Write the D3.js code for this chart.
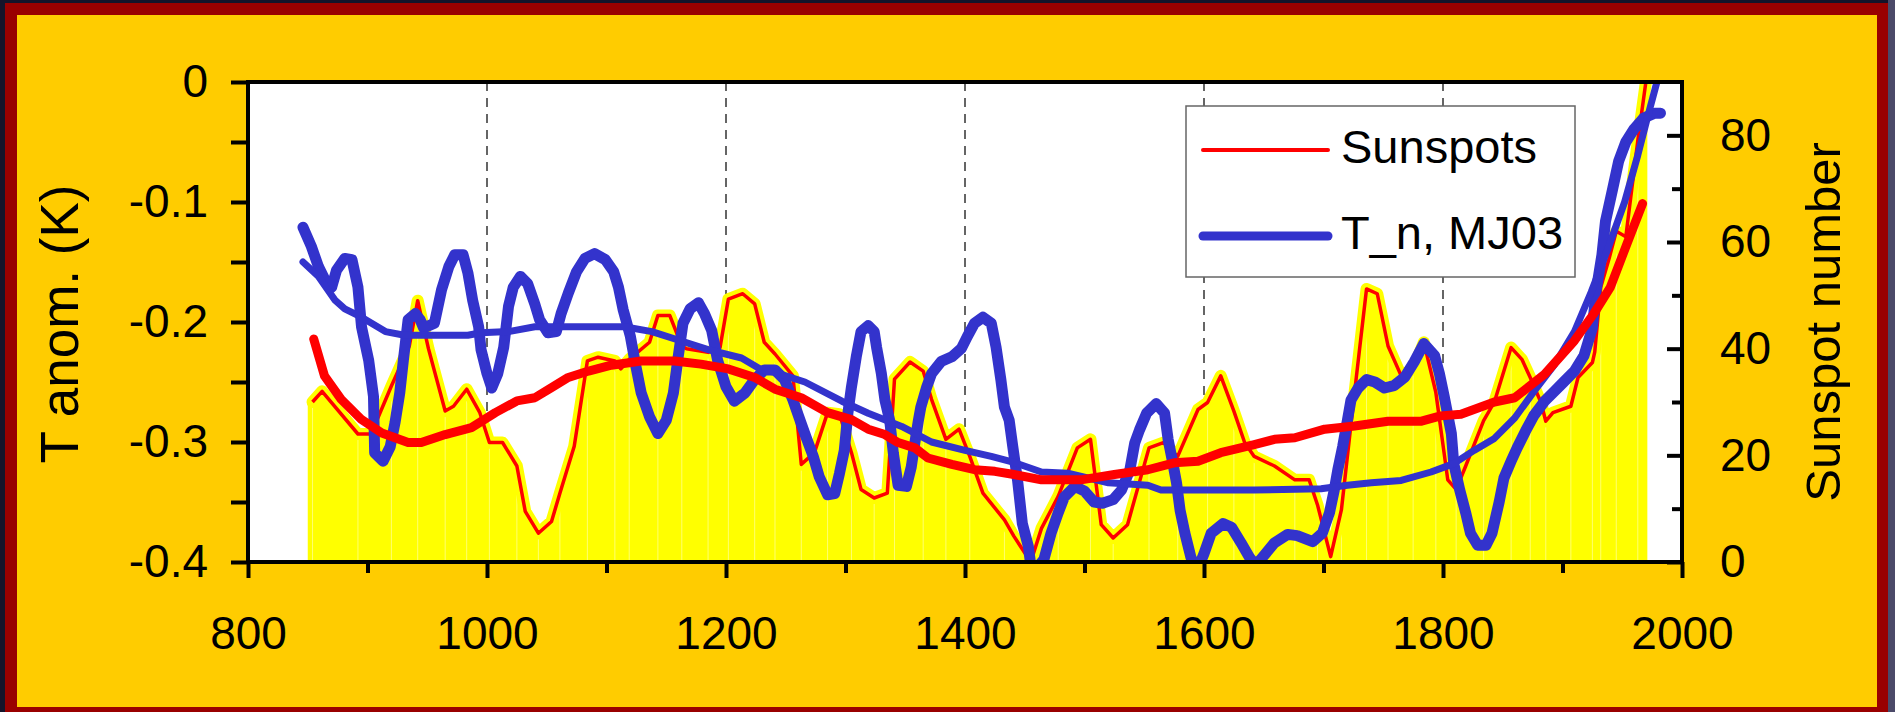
<!DOCTYPE html>
<html>
<head>
<meta charset="utf-8">
<script src="https://cdn.jsdelivr.net/npm/d3@7"></script>
<style>
  html, body { margin: 0; padding: 0; background: #14142a; overflow: hidden; }
  svg { display: block; font-family: 'Liberation Sans', Arial, sans-serif; }
</style>
</head>
<body>
<svg id="chart"></svg>
<script>
// sunspot number (right axis), thin red line + yellow fill
const sunspotYears = [850, 854, 862, 892, 903, 920, 935, 942, 951, 965, 972, 983, 994, 1002, 1013, 1025, 1032,
  1043, 1054, 1061, 1073, 1084, 1093, 1107, 1112, 1119, 1136, 1143, 1153, 1163, 1167, 1185, 1195, 1202,
  1214, 1224, 1232, 1241, 1256, 1263, 1274, 1285, 1295, 1305, 1313, 1324, 1335, 1341, 1354, 1365, 1372,
  1384, 1395, 1404, 1415, 1433, 1441, 1455, 1464, 1478, 1494, 1505, 1514, 1524, 1536, 1554, 1566, 1578,
  1595, 1603, 1614, 1625, 1634, 1642, 1659, 1676, 1688, 1695, 1706, 1715, 1726, 1736, 1745, 1754, 1765,
  1775, 1784, 1794, 1804, 1811, 1819, 1834, 1843, 1857, 1866, 1873, 1882, 1886, 1892, 1907, 1913, 1925,
  1927, 1932, 1939, 1945, 1953, 1963, 1971];
const sunspotValues = [30, 30, 32, 24, 24, 33, 40.5, 49, 40, 28.3, 29.2, 32.4, 28, 22.4, 22.4, 18, 9.5,
  5.4, 7.6, 12.9, 21.7, 37.7, 38.4, 37.7, 36.2, 38, 41.2, 46.2, 46.2, 40.5, 40, 39.3, 40.2, 49.3,
  50.3, 48.4, 41.2, 39, 34.9, 18.3, 20.5, 28, 27.7, 20.5, 13.6, 12, 12.9, 34.3, 37.5, 35.8, 30.5,
  23, 24.9, 19.8, 12.9, 7.9, 4.8, 0, 6.3, 12.3, 21.4, 23, 7, 4.5, 7, 21.4, 22.4, 19.8,
  28.6, 29.9, 34.9, 28.3, 22.4, 19.8, 18, 15.4, 15.4, 10.7, 1, 9.8, 31.8, 51.2, 50.3, 40.5, 34.9,
  36.2, 41.2, 31.8, 15.4, 13.6, 18, 26.5, 30, 40.2, 38, 34.6, 29.9, 26.4, 28, 29.2, 34.6, 37.4,
  39.4, 51.5, 56.9, 62, 61, 79, 92];

// smoothed sunspot number, thick red line
const sunSmoothYears = [855, 864, 878, 895, 912, 934, 945, 965, 987, 1007, 1025, 1040, 1054, 1068, 1085,
  1104, 1129, 1157, 1179, 1202, 1224, 1241, 1263, 1285, 1305, 1319, 1333, 1344, 1358, 1369, 1389, 1408,
  1425, 1441, 1464, 1497, 1525, 1553, 1575, 1595, 1614, 1642, 1659, 1676, 1701, 1726, 1754, 1782, 1798,
  1815, 1843, 1860, 1885, 1910, 1926, 1940, 1954, 1967];
const sunSmoothValues = [41.8, 34.9, 30.5, 26.7, 24.2, 22.4, 22.4, 23.9, 25.2, 28, 30.2, 30.8, 32.7, 34.6, 35.8,
  36.9, 37.7, 37.7, 37.1, 36.2, 34.6, 32.4, 30.8, 28, 26.7, 24.9, 23.9, 22.4, 21.4, 19.5, 18.3, 17.3,
  17, 16.4, 15.4, 15.4, 16.4, 17.3, 18.6, 18.9, 20.5, 22, 23, 23.3, 24.9, 25.5, 26.4, 26.4, 27.4,
  27.7, 30, 30.8, 35.2, 41.5, 46.5, 51.5, 59.7, 67.2];

// T_n, MJ03 (left axis), thick blue line
const tempYears = [846, 853, 859, 866, 870, 874, 881, 887, 892, 895, 901, 905, 906, 913, 919, 923, 927, 930,
  934, 940, 944, 947, 956, 962, 968, 973, 980, 984, 988, 993, 995, 1000, 1004, 1009, 1014, 1018, 1022,
  1028, 1034, 1040, 1044, 1051, 1058, 1062, 1068, 1075, 1082, 1090, 1099, 1106, 1110, 1114, 1120, 1124,
  1129, 1136, 1143, 1150, 1156, 1160, 1164, 1170, 1177, 1182, 1188, 1193, 1200, 1207, 1216, 1224, 1232,
  1241, 1249, 1256, 1262, 1267, 1273, 1278, 1285, 1291, 1295, 1299, 1302, 1305, 1309, 1313, 1319, 1324,
  1326, 1330, 1333, 1337, 1340, 1344, 1351, 1355, 1358, 1361, 1363, 1368, 1372, 1380, 1389, 1397, 1402,
  1408, 1415, 1422, 1426, 1430, 1433, 1437, 1440, 1444, 1448, 1453, 1456, 1466, 1472, 1478, 1483, 1492,
  1500, 1508, 1515, 1524, 1531, 1538, 1542, 1546, 1552, 1560, 1567, 1570, 1574, 1577, 1580, 1584, 1589,
  1594, 1600, 1606, 1616, 1623, 1631, 1638, 1643, 1649, 1659, 1670, 1678, 1691, 1699, 1705, 1709, 1712,
  1716, 1720, 1723, 1729, 1736, 1743, 1751, 1759, 1768, 1776, 1784, 1793, 1797, 1801, 1807, 1809, 1814,
  1819, 1823, 1829, 1836, 1841, 1847, 1851, 1857, 1862, 1869, 1876, 1885, 1893, 1901, 1910, 1918, 1925,
  1928, 1933, 1936, 1942, 1947, 1953, 1960, 1968, 1977, 1982];
const tempValues = [-0.121, -0.137, -0.154, -0.168, -0.171, -0.157, -0.147, -0.148, -0.171, -0.204, -0.232,
  -0.262, -0.309, -0.316, -0.304, -0.284, -0.259, -0.232, -0.198, -0.193, -0.198, -0.205, -0.201, -0.173,
  -0.154, -0.144, -0.144, -0.159, -0.182, -0.204, -0.223, -0.243, -0.255, -0.243, -0.221, -0.187, -0.171,
  -0.162, -0.168, -0.185, -0.198, -0.209, -0.208, -0.193, -0.176, -0.158, -0.147, -0.143, -0.148, -0.158,
  -0.171, -0.19, -0.212, -0.234, -0.259, -0.279, -0.293, -0.282, -0.259, -0.229, -0.201, -0.189, -0.184,
  -0.193, -0.207, -0.232, -0.254, -0.266, -0.259, -0.248, -0.24, -0.24, -0.248, -0.265, -0.282, -0.296,
  -0.312, -0.329, -0.344, -0.343, -0.326, -0.307, -0.276, -0.254, -0.229, -0.208, -0.203, -0.208, -0.221,
  -0.243, -0.265, -0.282, -0.309, -0.336, -0.337, -0.321, -0.301, -0.282, -0.271, -0.254, -0.243, -0.233,
  -0.229, -0.222, -0.212, -0.201, -0.196, -0.201, -0.221, -0.248, -0.271, -0.282, -0.304, -0.332, -0.368,
  -0.387, -0.41, -0.398, -0.376, -0.359, -0.346, -0.337, -0.341, -0.35, -0.351, -0.348, -0.34, -0.323,
  -0.301, -0.29, -0.276, -0.268, -0.276, -0.298, -0.318, -0.334, -0.357, -0.376, -0.396, -0.408, -0.393,
  -0.376, -0.368, -0.371, -0.384, -0.396, -0.403, -0.396, -0.384, -0.377, -0.378, -0.383, -0.376, -0.359,
  -0.34, -0.323, -0.304, -0.282, -0.265, -0.255, -0.248, -0.25, -0.255, -0.253, -0.246, -0.233, -0.218,
  -0.228, -0.243, -0.262, -0.293, -0.318, -0.34, -0.359, -0.376, -0.386, -0.386, -0.376, -0.35, -0.33,
  -0.316, -0.305, -0.291, -0.278, -0.266, -0.258, -0.25, -0.241, -0.228, -0.205, -0.175, -0.144, -0.116,
  -0.089, -0.066, -0.05, -0.039, -0.03, -0.026, -0.026];

// smoothed temperature, blue line
const tempSmoothYears = [846, 859, 873, 881, 895, 915, 931, 951, 984, 995, 1018, 1040, 1068, 1115, 1138, 1160,
  1185, 1213, 1230, 1241, 1266, 1297, 1319, 1347, 1372, 1400, 1422, 1441, 1464, 1486, 1520, 1553, 1564,
  1642, 1698, 1720, 1740, 1765, 1790, 1809, 1826, 1843, 1860, 1876, 1893, 1910, 1924, 1938, 1952, 1963,
  1971, 1979];
const tempSmoothValues = [-0.15, -0.162, -0.182, -0.189, -0.196, -0.208, -0.211, -0.211, -0.211, -0.209, -0.208,
  -0.204, -0.204, -0.204, -0.208, -0.215, -0.223, -0.23, -0.24, -0.242, -0.25, -0.266, -0.276, -0.287,
  -0.3, -0.307, -0.312, -0.317, -0.325, -0.326, -0.334, -0.336, -0.34, -0.34, -0.339, -0.336, -0.334,
  -0.332, -0.325, -0.318, -0.307, -0.297, -0.28, -0.258, -0.236, -0.208, -0.175, -0.139, -0.1, -0.061,
  -0.03, 0];

const xTicks = [800, 1000, 1200, 1400, 1600, 1800, 2000];
const xMinorTicks = [900, 1100, 1300, 1500, 1700, 1900];
const gridYears = [1000, 1200, 1400, 1600, 1800];
const leftTicks = [-0.4, -0.35, -0.3, -0.25, -0.2, -0.15, -0.1, -0.05, 0];
const leftLabels = [-0.4, -0.3, -0.2, -0.1, 0];
const rightTicks = [0, 20, 40, 60, 80];
const rightMinorTicks = [10, 30, 50, 70];
const legendLabels = ['Sunspots', 'T_n, MJ03'];

const W = 1895;
const H = 712;
const plot = { left: 248, top: 82, right: 1682, bottom: 562 };
const blue = '#3333cc';
const red = '#ff0000';
const yellow = '#ffff00';

const svg = d3.select('#chart').attr('width', W).attr('height', H);

// frame
svg.append('rect').attr('x', 5).attr('y', 3).attr('width', 1883).attr('height', H - 3).attr('fill', '#990000');
svg.append('rect').attr('x', 1888).attr('y', 0).attr('width', 7).attr('height', H).attr('fill', '#4b4968');
svg.append('rect').attr('x', 17).attr('y', 15).attr('width', 1860).attr('height', 692).attr('fill', '#ffcc00');

const x = d3.scaleLinear().domain([800, 2000]).range([plot.left, plot.right]);
const yT = d3.scaleLinear().domain([-0.4, 0]).range([plot.bottom, plot.top]);
const yS = d3.scaleLinear().domain([0, 90]).range([plot.bottom, plot.top]);

svg.append('rect')
  .attr('x', plot.left).attr('y', plot.top)
  .attr('width', plot.right - plot.left).attr('height', plot.bottom - plot.top)
  .attr('fill', '#fff');

svg.append('clipPath').attr('id', 'clip')
  .append('rect')
  .attr('x', plot.left).attr('y', plot.top)
  .attr('width', plot.right - plot.left).attr('height', plot.bottom - plot.top);

const g = svg.append('g').attr('clip-path', 'url(#clip)');

g.selectAll('.grid').data(gridYears).join('line')
  .attr('x1', (d) => x(d)).attr('x2', (d) => x(d))
  .attr('y1', plot.top).attr('y2', plot.bottom)
  .attr('stroke', '#333').attr('stroke-width', 1.5)
  .attr('stroke-dasharray', '9,7');

const sun = sunspotYears.map((yr, i) => ({ year: yr, v: sunspotValues[i] }));
const sunSmooth = sunSmoothYears.map((yr, i) => ({ year: yr, v: sunSmoothValues[i] }));
const temp = tempYears.map((yr, i) => ({ year: yr, v: tempValues[i] }));
const tempSmooth = tempSmoothYears.map((yr, i) => ({ year: yr, v: tempSmoothValues[i] }));

const area = d3.area().x((d) => x(d.year)).y0(yS(0)).y1((d) => yS(d.v));
const sLine = d3.line().x((d) => x(d.year)).y((d) => yS(d.v));
const tLine = d3.line().x((d) => x(d.year)).y((d) => yT(d.v));

g.append('path').attr('d', area(sun)).attr('fill', yellow);

// faint seams in the fill, every other point
g.selectAll('.seam').data(sun.filter((d, i) => i % 2 === 1 && i < sun.length - 1)).join('line')
  .attr('x1', (d) => x(d.year)).attr('x2', (d) => x(d.year))
  .attr('y1', yS(0)).attr('y2', (d) => yS(d.v) + 6)
  .attr('stroke', '#ffffc8').attr('stroke-width', 0.8).attr('stroke-opacity', 0.7);

g.append('path').attr('d', sLine(sun.slice(1)))
  .attr('fill', 'none').attr('stroke', yellow).attr('stroke-width', 12)
  .attr('stroke-linejoin', 'round').attr('stroke-linecap', 'round');

g.append('path').attr('d', sLine(sun.slice(1)))
  .attr('fill', 'none').attr('stroke', red).attr('stroke-width', 3.5)
  .attr('stroke-linejoin', 'round');

g.append('path').attr('d', tLine(temp))
  .attr('fill', 'none').attr('stroke', blue).attr('stroke-width', 11)
  .attr('stroke-linejoin', 'round').attr('stroke-linecap', 'round');

g.append('path').attr('d', tLine(tempSmooth))
  .attr('fill', 'none').attr('stroke', blue).attr('stroke-width', 7)
  .attr('stroke-linejoin', 'round').attr('stroke-linecap', 'round');

g.append('path').attr('d', sLine(sunSmooth))
  .attr('fill', 'none').attr('stroke', red).attr('stroke-width', 9)
  .attr('stroke-linejoin', 'round').attr('stroke-linecap', 'round');

// plot border
svg.append('rect')
  .attr('x', plot.left).attr('y', plot.top)
  .attr('width', plot.right - plot.left).attr('height', plot.bottom - plot.top)
  .attr('fill', 'none').attr('stroke', '#000').attr('stroke-width', 4);

const styleAxis = (sel) => {
  sel.select('.domain').remove();
  sel.selectAll('line').attr('stroke', '#000').attr('stroke-width', 4);
  sel.selectAll('text').attr('fill', '#000').style('font-size', '46px')
    .style('font-family', "'Liberation Sans', Arial, sans-serif");
};

// left axis
svg.append('g').attr('transform', `translate(${plot.left},0)`)
  .call(d3.axisLeft(yT).tickValues(leftTicks).tickSize(17).tickFormat(''))
  .call(styleAxis);
svg.append('g').attr('transform', `translate(${plot.left},0)`)
  .call(d3.axisLeft(yT).tickValues(leftLabels).tickSize(0).tickPadding(40)
    .tickFormat((d) => (d === 0 ? '0' : d.toFixed(1))))
  .call(styleAxis);

// bottom axis
svg.append('g').attr('transform', `translate(0,${plot.bottom})`)
  .call(d3.axisBottom(x).tickValues(xMinorTicks).tickSize(11).tickFormat(''))
  .call(styleAxis);
svg.append('g').attr('transform', `translate(0,${plot.bottom})`)
  .call(d3.axisBottom(x).tickValues(xTicks).tickSize(16).tickPadding(38).tickFormat(d3.format('d')))
  .call(styleAxis);

// right axis, ticks pointing inwards
svg.append('g').attr('transform', `translate(${plot.right},0)`)
  .call(d3.axisRight(yS).tickValues(rightMinorTicks).tickSize(-10).tickFormat(''))
  .call(styleAxis);
svg.append('g').attr('transform', `translate(${plot.right},0)`)
  .call(d3.axisRight(yS).tickValues(rightTicks).tickSize(-15).tickPadding(38).tickFormat(d3.format('d')))
  .call(styleAxis);

// axis titles
svg.append('text')
  .attr('transform', 'translate(78,324) rotate(-90)')
  .attr('text-anchor', 'middle')
  .style('font-size', '53px')
  .text('T anom. (K)');

svg.append('text')
  .attr('transform', 'translate(1840,322) rotate(-90)')
  .attr('text-anchor', 'middle')
  .style('font-size', '49px')
  .text('Sunspot number');

// legend
const legend = svg.append('g');
legend.append('rect')
  .attr('x', 1186).attr('y', 106).attr('width', 389).attr('height', 171)
  .attr('fill', '#fff').attr('stroke', '#666').attr('stroke-width', 1.5);

const legendStyles = [
  { color: red, width: 4 },
  { color: blue, width: 9 },
];
const rows = legend.selectAll('.row').data(legendLabels).join('g')
  .attr('transform', (d, i) => `translate(0,${150 + i * 86})`);
rows.append('line')
  .attr('x1', 1203).attr('x2', 1328)
  .attr('stroke', (d, i) => legendStyles[i].color)
  .attr('stroke-width', (d, i) => legendStyles[i].width)
  .attr('stroke-linecap', 'round');
rows.append('text')
  .attr('x', 1341).attr('y', 13)
  .style('font-size', '47px')
  .text((d) => d);
</script>
</body>
</html>
